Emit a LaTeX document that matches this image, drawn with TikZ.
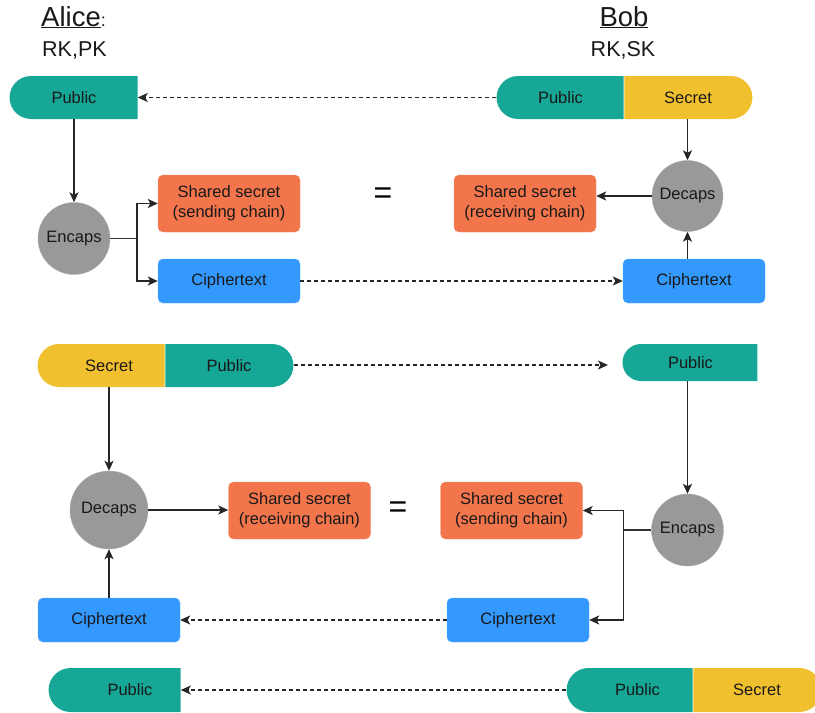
\documentclass[tikz,border=0pt]{standalone}
\usepackage{fontspec}
\setmainfont{Liberation Sans}
\usetikzlibrary{arrows.meta,shapes.misc,calc}

\definecolor{keyteal}{RGB}{22,167,150}
\definecolor{keyyellow}{RGB}{241,192,46}
\definecolor{secorange}{RGB}{242,117,75}
\definecolor{ctblue}{RGB}{51,153,255}
\definecolor{opgrey}{RGB}{153,153,153}

\tikzset{
  lbl/.style={font=\fontsize{16.5}{20}\selectfont, text=black!90},
  % keyL: rounded on the left side only; keyR: rounded on the right side only
  keyL/.style={lbl, rounded rectangle, rounded rectangle east arc=none,
    inner sep=0pt, minimum height=43pt},
  keyR/.style={lbl, rounded rectangle, rounded rectangle west arc=none,
    inner sep=0pt, minimum height=43pt},
  secbox/.style={lbl, rectangle, rounded corners=5pt, fill=secorange,
    draw=secorange!80!white, minimum width=142pt, minimum height=57pt,
    align=center, inner sep=0pt},
  ctbox/.style={lbl, rectangle, rounded corners=5pt, fill=ctblue,
    draw=ctblue!80!white, minimum width=142pt, minimum height=44pt, inner sep=0pt},
  opnode/.style={lbl, circle, fill=opgrey, draw=opgrey!80!white, inner sep=0pt},
  tip/.style={-{Stealth[length=10pt,width=9pt,inset=2.5pt]}},
  arr/.style={draw=black!85, line width=1.5pt, tip},
  plainline/.style={draw=black!80, line width=1.5pt},
  dasharr/.style={draw=black!85, line width=1.3pt, dash pattern=on 4pt off 3pt, tip},
  eqsign/.style={font=\fontsize{32}{32}\selectfont},
  titlebig/.style={font=\fontsize{27.5}{30}\selectfont, text=black!90, inner sep=0pt},
  titlesmall/.style={font=\fontsize{21.5}{24}\selectfont, text=black!90, inner sep=0pt}
}

\begin{document}
\begin{tikzpicture}[x=1pt,y=-1pt]
\useasboundingbox (0,0) rectangle (815,713);

% party headings
\node[titlebig, anchor=base west] (alice) at (41,26) {\underline{Alice}{\fontsize{18}{20}\selectfont :}};
\node[titlesmall, anchor=base west] (alicekeys) at (42,56) {RK,PK};
\node[titlebig, anchor=base] (bob) at (624,26) {\underline{Bob}};
\node[titlesmall, anchor=base] (bobkeys) at (623,56) {RK,SK};

% ---------- first exchange ----------
\node[keyL, fill=keyteal, minimum width=128pt] (pubA1) at (74,97.5) {Public};
\node[keyL, fill=keyteal, minimum width=127pt] (pubB1) at (560.5,97.5) {Public};
\node[keyR, fill=keyyellow, minimum width=128pt] (secB1) at (688,97.5) {Secret};

\node[opnode, minimum size=72pt] (encA1) at (74,238.5) {Encaps};
\node[secbox] (ssA1) at (229,203.5) {Shared secret\\(sending chain)};
\node[ctbox] (ctA1) at (229,281) {Ciphertext};

\node[eqsign] (eq1) at (383,196) {=};

\node[secbox] (ssB1) at (525,203.5) {Shared secret\\(receiving chain)};
\node[opnode, minimum size=71pt] (decB1) at (687.5,196) {Decaps};
\node[ctbox] (ctB1) at (694,281) {Ciphertext};

\draw[dasharr] (pubB1.west) -- (pubA1.east);
\draw[arr] (pubA1.south) -- (encA1.north);
\draw[plainline] (encA1.east) -- ++(27,0) coordinate (forkA1);
\draw[arr] (forkA1) |- (ssA1.west);
\draw[arr] (forkA1) |- (ctA1.west);
\draw[dasharr] (ctA1.east) -- (ctB1.west);
\draw[arr] (decB1.north |- secB1.south) -- (decB1.north);
\draw[arr] (decB1.south |- ctB1.north) -- (decB1.south);
\draw[arr] (decB1.west) -- (decB1.west -| ssB1.east);

% ---------- second exchange ----------
\node[keyL, fill=keyyellow, minimum width=127pt] (secA2) at (101.5,365.5) {\hspace*{15pt}Secret};
\node[keyR, fill=keyteal, minimum width=128pt] (pubA2) at (229,365.5) {Public};
\node[keyL, fill=keyteal, minimum width=135pt, minimum height=37pt] (pubB2) at (690.5,362.5) {Public};
\coordinate (pubB2in) at (608,365);

\node[opnode, minimum size=78pt] (decA2) at (109,510) {Decaps};
\node[secbox] (ssA2) at (299.5,510.5) {Shared secret\\(receiving chain)};
\node[eqsign] (eq2) at (398,510) {=};
\node[secbox] (ssB2) at (511.5,510.5) {Shared secret\\(sending chain)};
\node[opnode, minimum size=72pt] (encB2) at (687.5,530) {Encaps};
\node[ctbox] (ctA2) at (109,620) {Ciphertext};
\node[ctbox] (ctB2) at (518,620) {Ciphertext};

\draw[dasharr] (pubA2.east |- pubB2in) -- (pubB2in);
\draw[arr] (decA2.north |- secA2.south) -- (decA2.north);
\draw[arr] (ctA2.north) -- (decA2.south);
\draw[arr] (decA2.east) -- (decA2.east -| ssA2.west);
\draw[arr] (encB2.north |- pubB2.south) -- (encB2.north);
\draw[plainline] (encB2.west) -- ++(-28,0) coordinate (forkB2);
\draw[arr] (forkB2) |- (ssB2.east);
\draw[arr] (forkB2) |- (ctB2.east);
\draw[dasharr] (ctB2.west) -- (ctA2.east);

% ---------- final key state ----------
\node[keyL, fill=keyteal, minimum width=132pt, minimum height=44pt] (pubA3) at (115,690) {\hspace*{30pt}Public};
\node[keyL, fill=keyteal, minimum width=126pt, minimum height=44pt] (pubB3) at (630,690) {\hspace*{15pt}Public};
\node[keyR, fill=keyyellow, minimum width=128pt, minimum height=44pt] (secB3) at (757,690) {Secret};
\draw[dasharr] (pubB3.west) -- (pubA3.east);
\end{tikzpicture}
\end{document}
